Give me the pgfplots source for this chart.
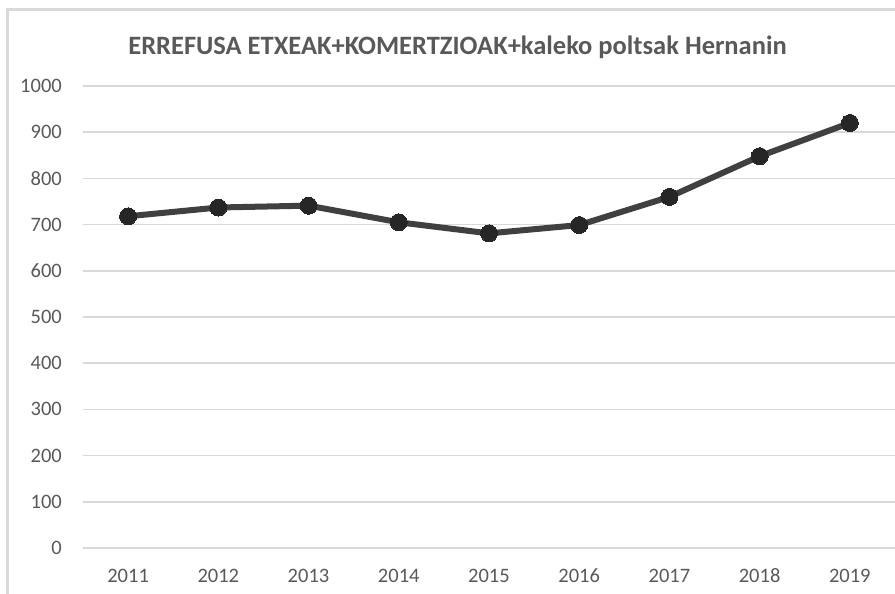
\documentclass[border=0pt]{standalone}
\usepackage{pgfplots}
\pgfplotsset{compat=1.18}
\usepackage{fontspec}
\setmainfont{Carlito}
\definecolor{txtgray}{HTML}{595959}
\definecolor{gridgray}{HTML}{D9D9D9}
\definecolor{linegray}{HTML}{404040}
\definecolor{markgray}{HTML}{262626}

\begin{document}
\begin{tikzpicture}[x=1pt,y=1pt]
\useasboundingbox (0,0) rectangle (895,594);
% chart frame (left and top edges visible)
\draw[gridgray, line width=3pt] (7.5,0) -- (7.5,584.5) -- (895,584.5);
\node[txtgray, font=\fontsize{26.5}{30}\selectfont\bfseries] at (457.5,547) {ERREFUSA ETXEAK+KOMERTZIOAK+kaleko poltsak Hernanin};
\begin{axis}[
  at={(83pt,46pt)}, anchor=origin,
  scale only axis,
  width=812pt, height=462pt,
  xmin=2010.5, xmax=2019.5,
  ymin=0, ymax=1000,
  xtick={2011,...,2019},
  xticklabels={2011,2012,2013,2014,2015,2016,2017,2018,2019},
  ytick distance=100,
  axis line style={draw=none},
  major tick length=0pt,
  ymajorgrids=true,
  grid style={gridgray, line width=1.5pt},
  clip=false,
  tick label style={txtgray, font=\fontsize{20.5}{24}\selectfont, inner sep=0pt},
  xticklabel style={anchor=base, yshift=-35pt},
  yticklabel style={anchor=east, xshift=-21pt},
  /pgf/number format/assume math mode=true,
  /pgf/number format/1000 sep={},
]
\addplot[linegray, line width=6pt, mark=*, mark size=8.5pt,
  mark options={fill=markgray, draw=markgray, line width=0pt}]
  coordinates {(2011,718) (2012,737) (2013,741) (2014,705) (2015,681)
               (2016,699) (2017,760) (2018,848) (2019,920)};
\end{axis}
\end{tikzpicture}
\end{document}
